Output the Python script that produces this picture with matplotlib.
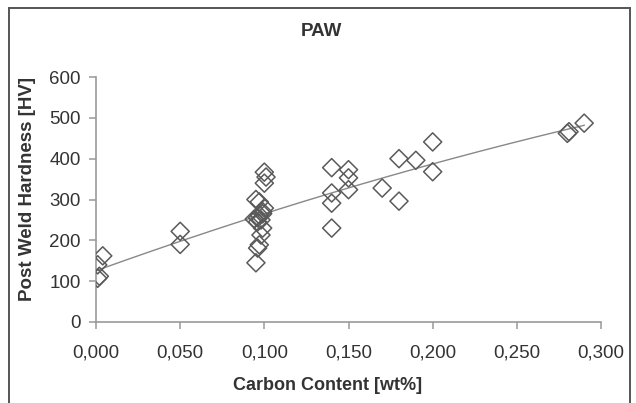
import numpy as np
import matplotlib.pyplot as plt
from matplotlib.lines import Line2D
from matplotlib.ticker import FuncFormatter, MultipleLocator

# Carbon content [wt%] and post-weld hardness [HV] per sample
carbon = [0.001, 0.002, 0.001, 0.004,
          0.050, 0.050,
          0.095, 0.096, 0.097, 0.098, 0.099, 0.096, 0.097, 0.098, 0.099, 0.100,
          0.094, 0.095, 0.097, 0.099, 0.096, 0.100, 0.101, 0.100,
          0.140, 0.140, 0.140, 0.140,
          0.150, 0.150, 0.150,
          0.170, 0.180, 0.180, 0.190, 0.200, 0.200,
          0.280, 0.281, 0.290]
hardness = [140, 112, 107, 162,
            222, 190,
            145, 181, 189, 213, 230, 255, 262, 250, 270, 279,
            252, 300, 294, 265, 245, 340, 355, 367,
            378, 316, 291, 230,
            373, 353, 324,
            328, 400, 296, 396, 441, 368,
            462, 466, 487]

title = "PAW"
xlabel = "Carbon Content [wt%]"
ylabel = "Post Weld Hardness [HV]"

W, H = 636, 403
fig = plt.figure(figsize=(W / 100, H / 100), dpi=100)
fig.patch.set_facecolor("white")

# outer frame (open at the bottom)
frame_kw = dict(color="#555555", linewidth=1.4, transform=fig.transFigure)
x0, x1, ytop = 9 / W, 630 / W, 1 - 8 / H
fig.add_artist(Line2D([x0, x0], [0, ytop], **frame_kw))
fig.add_artist(Line2D([x0, x1], [ytop, ytop], **frame_kw))
fig.add_artist(Line2D([x1, x1], [0, ytop], **frame_kw))

ax = fig.add_axes([96 / W, 1 - 322 / H, (601 - 96) / W, (322 - 77) / H])

# quadratic trend line through the data
coef = np.polyfit(carbon, hardness, 2)
xf = np.linspace(0.0, max(carbon), 200)
ax.plot(xf, np.polyval(coef, xf), color="#888888", linewidth=1.0, zorder=2)

ax.scatter(carbon, hardness, marker="D", s=85, facecolors="none",
           edgecolors="#5a5a5a", linewidths=1.1, zorder=3)

ax.set_xlim(0, 0.3)
ax.set_ylim(0, 600)
ax.xaxis.set_major_locator(MultipleLocator(0.05))
ax.yaxis.set_major_locator(MultipleLocator(100))
ax.xaxis.set_major_formatter(FuncFormatter(lambda v, p: f"{v:.3f}".replace(".", ",")))

for s in ("top", "right"):
    ax.spines[s].set_visible(False)
for s in ("left", "bottom"):
    ax.spines[s].set_color("#999999")
    ax.spines[s].set_linewidth(1.2)
ax.tick_params(axis="both", colors="#999999", labelcolor="#333333",
               labelsize=13.5, length=5, width=1.1, direction="out")
ax.tick_params(axis="x", pad=11)
ax.tick_params(axis="y", pad=6)

for lab in ax.get_xticklabels() + ax.get_yticklabels():
    lab.set_family("Liberation Sans")

text_kw = dict(fontweight="bold", color="#333333", family="Liberation Sans",
               ha="center", va="center")
fig.text(328 / W, 1 - 386 / H, xlabel, fontsize=13, **text_kw)
fig.text(28 / W, 1 - 189 / H, ylabel, fontsize=13.5, rotation=90, **text_kw)
fig.text(321 / W, 1 - 31 / H, title, fontsize=13.5, **text_kw)

fig.savefig("out.png", dpi=100, facecolor="white")
